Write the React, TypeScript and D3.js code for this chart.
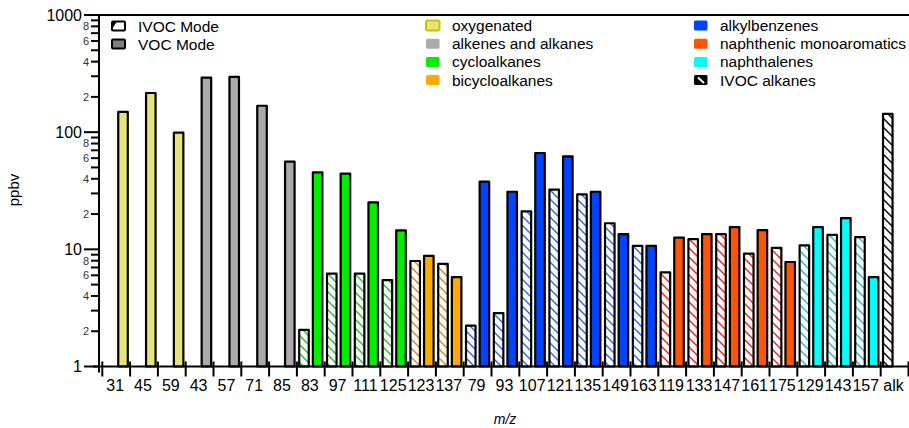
import { useEffect, useRef } from 'react';
import * as d3 from 'd3';

// m/z categories, in plotting order
const categories = ['31', '45', '59', '43', '57', '71', '85', '83', '97', '111', '125', '123', '137',
  '79', '93', '107', '121', '135', '149', '163', '119', '133', '147', '161', '175', '129', '143', '157', 'alk'];

// compound family of each category
const families = ['oxygenated', 'oxygenated', 'oxygenated',
  'alkenes and alkanes', 'alkenes and alkanes', 'alkenes and alkanes', 'alkenes and alkanes',
  'cycloalkanes', 'cycloalkanes', 'cycloalkanes', 'cycloalkanes',
  'bicycloalkanes', 'bicycloalkanes',
  'alkylbenzenes', 'alkylbenzenes', 'alkylbenzenes', 'alkylbenzenes', 'alkylbenzenes', 'alkylbenzenes', 'alkylbenzenes',
  'naphthenic monoaromatics', 'naphthenic monoaromatics', 'naphthenic monoaromatics', 'naphthenic monoaromatics', 'naphthenic monoaromatics',
  'naphthalenes', 'naphthalenes', 'naphthalenes',
  'IVOC alkanes'];

// ppbv, VOC mode (solid) and IVOC mode (hatched)
const vocMode = [149, 216, 99, 292, 296, 168, 56, 45.4, 44.3, 25.2, 14.5, 8.8, 5.8,
  37.8, 31, 66.4, 62.2, 31, 13.5, 10.7, 12.6, 13.5, 15.5, 14.6, 7.8, 15.5, 18.5, 5.8, null];
const ivocMode = [null, null, null, null, null, null, null, 2.05, 6.2, 6.2, 5.47, 7.95, 7.5,
  2.23, 2.86, 21.1, 32.3, 29.5, 16.7, 10.7, 6.37, 12.2, 13.5, 9.18, 10.3, 10.8, 13.3, 12.7, 143];

const familyNames = ['oxygenated', 'alkenes and alkanes', 'cycloalkanes', 'bicycloalkanes',
  'alkylbenzenes', 'naphthenic monoaromatics', 'naphthalenes', 'IVOC alkanes'];
const familyFill = ['#e6e27e', '#aaaaaa', '#00ee00', '#ffaa00', '#0044ff', '#ff5500', '#00ffff', '#000000'];
const familyHatch = ['#c8c400', '#888888', '#22c322', '#cc8a22', '#2f5fff', '#ff1a1a', '#1fbcbc', '#000000'];

const modes = ['IVOC', 'VOC'];
const majorTicks = [1, 10, 100, 1000];

const W = 909;
const H = 428;
const FONT = 'Liberation Sans, Arial, sans-serif';

export default function App() {
  const svgRef = useRef<SVGSVGElement | null>(null);

  useEffect(() => {
    const svg = d3.select(svgRef.current);
    svg.selectAll('*').remove();

    const x = d3.scaleBand().domain(categories).range([102.3, 908.5]).padding(0);
    const xm = d3.scaleBand().domain(modes).range([0, x.bandwidth()]).paddingInner(0.3).paddingOuter(0.17);
    const y = d3.scaleLog().domain([1, 1000]).range([366.5, 15]);
    const color = d3.scaleOrdinal<string, string>().domain(familyNames).range(familyFill);
    const hatch = d3.scaleOrdinal<string, string>().domain(familyNames).range(familyHatch);

    // hatch patterns
    const defs = svg.append('defs');
    familyNames.forEach((f, i) => {
      const p = defs.append('pattern')
        .attr('id', `hatch-${i}`)
        .attr('patternUnits', 'userSpaceOnUse')
        .attr('width', 9)
        .attr('height', 9);
      p.append('rect').attr('width', 9).attr('height', 9).attr('fill', '#fff');
      p.append('path')
        .attr('d', 'M-2,-2 L11,11 M-2,7 L2,11 M7,-2 L11,2')
        .attr('stroke', hatch(f))
        .attr('stroke-width', 1.4);
    });

    const g = svg.append('g');

    // bars
    const rows: { cat: string; fam: string; mode: string; v: number }[] = [];
    categories.forEach((c, i) => {
      if (ivocMode[i] != null) rows.push({ cat: c, fam: families[i], mode: 'IVOC', v: ivocMode[i] as number });
      if (vocMode[i] != null) rows.push({ cat: c, fam: families[i], mode: 'VOC', v: vocMode[i] as number });
    });

    g.selectAll('rect.bar')
      .data(rows)
      .join('rect')
      .attr('class', 'bar')
      .attr('x', d => (x(d.cat) ?? 0) + (xm(d.mode) ?? 0))
      .attr('width', xm.bandwidth())
      .attr('y', d => y(d.v))
      .attr('height', d => y(1) - y(d.v))
      .attr('fill', d => d.mode === 'VOC' ? color(d.fam) : `url(#hatch-${familyNames.indexOf(d.fam)})`)
      .attr('stroke', '#000')
      .attr('stroke-width', 2.2)
      .attr('stroke-linejoin', 'round');

    // frame top
    g.append('line').attr('x1', 99).attr('x2', W).attr('y1', 15).attr('y2', 15)
      .attr('stroke', '#000').attr('stroke-width', 2);

    // x axis
    g.append('line').attr('x1', 93).attr('x2', W).attr('y1', y(1)).attr('y2', y(1))
      .attr('stroke', '#000').attr('stroke-width', 2);
    const bounds = categories.map(c => x(c) ?? 0).concat([x.range()[1]]);
    g.selectAll('line.xt')
      .data(bounds)
      .join('line')
      .attr('class', 'xt')
      .attr('x1', d => d).attr('x2', d => d)
      .attr('y1', y(1) - 5).attr('y2', y(1) + 10)
      .attr('stroke', '#000').attr('stroke-width', 2);
    g.selectAll('text.xl')
      .data(categories)
      .join('text')
      .attr('class', 'xl')
      .attr('x', d => (x(d) ?? 0) + x.bandwidth() / 2 - 1)
      .attr('y', 391)
      .attr('text-anchor', 'middle')
      .attr('font-family', FONT)
      .attr('font-size', 16)
      .attr('fill', '#000')
      .text(d => d);

    // y axis
    g.append('line').attr('x1', 99).attr('x2', 99).attr('y1', 14).attr('y2', y(1) + 6)
      .attr('stroke', '#000').attr('stroke-width', 2);
    const minor: number[] = [];
    [1, 10, 100].forEach(d => { for (let k = 2; k <= 9; k++) minor.push(d * k); });
    g.selectAll('line.ymin')
      .data(minor)
      .join('line')
      .attr('class', 'ymin')
      .attr('x1', 91).attr('x2', 99)
      .attr('y1', d => y(d)).attr('y2', d => y(d))
      .attr('stroke', '#000').attr('stroke-width', 2);
    g.selectAll('text.ymin')
      .data(minor.filter(d => [2, 4, 6, 8].includes(Math.round(d / Math.pow(10, Math.floor(Math.log10(d)))))))
      .join('text')
      .attr('class', 'ymin')
      .attr('x', 89)
      .attr('y', d => y(d))
      .attr('dy', '0.36em')
      .attr('text-anchor', 'end')
      .attr('font-family', FONT)
      .attr('font-size', 11)
      .attr('fill', '#333')
      .text(d => String(Math.round(d / Math.pow(10, Math.floor(Math.log10(d))))));
    g.selectAll('line.ymaj')
      .data(majorTicks)
      .join('line')
      .attr('class', 'ymaj')
      .attr('x1', 84).attr('x2', 99)
      .attr('y1', d => y(d)).attr('y2', d => y(d))
      .attr('stroke', '#000').attr('stroke-width', 2);
    g.selectAll('text.ymaj')
      .data(majorTicks)
      .join('text')
      .attr('class', 'ymaj')
      .attr('x', 82)
      .attr('y', d => y(d))
      .attr('dy', '0.36em')
      .attr('text-anchor', 'end')
      .attr('font-family', FONT)
      .attr('font-size', 16)
      .attr('fill', '#000')
      .text(d => String(d));

    // axis titles
    g.append('text')
      .attr('transform', 'translate(19,190) rotate(-90)')
      .attr('text-anchor', 'middle')
      .attr('font-family', FONT)
      .attr('font-size', 15)
      .text('ppbv');
    g.append('text')
      .attr('x', 505).attr('y', 424)
      .attr('text-anchor', 'middle')
      .attr('font-family', FONT)
      .attr('font-size', 14)
      .attr('font-style', 'italic')
      .text('m/z');

    // mode legend
    const ml = g.append('g');
    [0, 1].forEach(i => {
      const cy = 26 + i * 18;
      ml.append('rect').attr('x', 112).attr('y', cy - 4.5).attr('width', 13).attr('height', 9)
        .attr('fill', i === 0 ? '#fff' : '#808080')
        .attr('stroke', '#000').attr('stroke-width', 2).attr('rx', 1);
      if (i === 0) {
        ml.append('path').attr('d', `M112,${cy - 4.5} L117,${cy - 4.5} L112,${cy + 3} Z`).attr('fill', '#000');
      }
      ml.append('text').attr('x', 138).attr('y', cy).attr('dy', '0.36em')
        .attr('font-family', FONT).attr('font-size', 15.5)
        .text(i === 0 ? 'IVOC Mode' : 'VOC Mode');
    });

    // family legend
    const fl = g.append('g');
    familyNames.forEach((f, i) => {
      const col = Math.floor(i / 4);
      const row = i % 4;
      const bx = col === 0 ? 426 : 694;
      const cy = 25.5 + row * 18.2;
      if (f === 'IVOC alkanes') {
        fl.append('rect').attr('x', bx).attr('y', cy - 5).attr('width', 13.5).attr('height', 10)
          .attr('fill', '#000').attr('rx', 1.5);
        fl.append('path').attr('d', `M${bx + 4},${cy - 2.5} L${bx + 10},${cy + 3}`)
          .attr('stroke', '#fff').attr('stroke-width', 2);
      } else {
        fl.append('rect').attr('x', bx).attr('y', cy - 5).attr('width', 13.5).attr('height', 10)
          .attr('fill', color(f)).attr('rx', 1.5)
          .attr('stroke', f === 'oxygenated' ? '#c8c400' : 'none')
          .attr('stroke-width', f === 'oxygenated' ? 2 : 0);
      }
      fl.append('text').attr('x', bx + 26).attr('y', cy).attr('dy', '0.36em')
        .attr('font-family', FONT).attr('font-size', 15.5)
        .text(f);
    });
  }, []);

  return (
    <svg
      ref={svgRef}
      width={W}
      height={H}
      style={{ position: 'absolute', left: 0, top: 0, background: '#fff' }}
    />
  );
}
